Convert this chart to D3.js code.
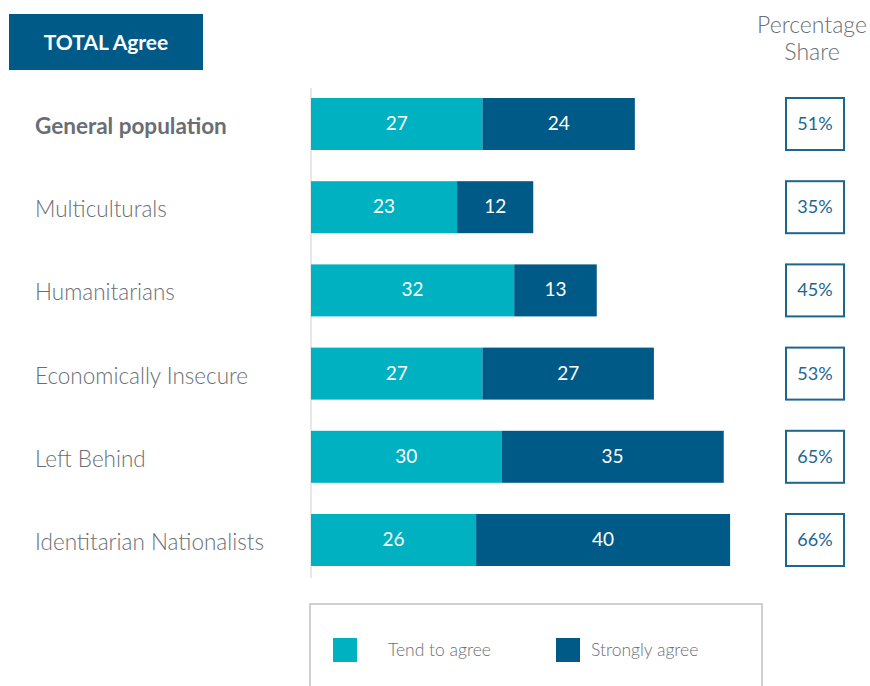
<!DOCTYPE html>
<html>
<head>
<meta charset="utf-8">
<script src="https://cdn.jsdelivr.net/npm/d3@7"></script>
<style>
  body { margin: 0; background: #fff; }
  text { font-family: Lato, "Noto Sans", sans-serif; }
</style>
</head>
<body>
<div id="chart"></div>
<script>
const groups = ["General population", "Multiculturals", "Humanitarians", "Economically Insecure", "Left Behind", "Identitarian Nationalists"];
const tendToAgree = [27, 23, 32, 27, 30, 26];
const stronglyAgree = [24, 12, 13, 27, 35, 40];
const shares = ["51%", "35%", "45%", "53%", "65%", "66%"];
const seriesNames = ["Tend to agree", "Strongly agree"];

const W = 870, H = 686;
const teal = "#00b1c1", navy = "#005a87", grey = "#6a6e74";

const svg = d3.select("#chart").append("svg")
  .attr("width", W).attr("height", H);

// scales
const x = d3.scaleLinear().domain([0, 100]).range([311, 946]);
const y = d3.scaleBand().domain(groups).range([98, 566]).paddingInner(0.375).paddingOuter(0);

// title box
svg.append("rect").attr("x", 9).attr("y", 14).attr("width", 194).attr("height", 56).attr("fill", navy);
svg.append("text").attr("x", 106).attr("y", 50).attr("text-anchor", "middle")
  .attr("fill", "#fff").attr("font-size", 21).attr("font-weight", "bold").text("TOTAL Agree");

// percentage share header
svg.append("text").attr("x", 812).attr("y", 33).attr("text-anchor", "middle")
  .attr("fill", grey).attr("font-size", 23).attr("font-weight", 300).text("Percentage");
svg.append("text").attr("x", 812).attr("y", 60).attr("text-anchor", "middle")
  .attr("fill", grey).attr("font-size", 23).attr("font-weight", 300).text("Share");

// axis line
svg.append("line").attr("x1", 311).attr("x2", 311).attr("y1", 88).attr("y2", 578)
  .attr("stroke", "#d0d0d0").attr("stroke-width", 1);

const rows = groups.map((g, i) => ({ g, a: tendToAgree[i], b: stronglyAgree[i], s: shares[i] }));
const row = svg.selectAll(".row").data(rows).join("g").attr("class", "row");

// category labels
row.append("text").attr("x", 35).attr("y", d => y(d.g) + y.bandwidth() / 2 + 10)
  .attr("fill", grey).attr("font-size", 22.5)
  .attr("font-weight", (d, i) => i === 0 ? "bold" : 300).text(d => d.g);

// tend to agree
row.append("rect").attr("x", x(0)).attr("y", d => y(d.g))
  .attr("width", d => x(d.a) - x(0)).attr("height", y.bandwidth()).attr("fill", teal);
row.append("text").attr("x", d => (x(0) + x(d.a)) / 2).attr("y", d => y(d.g) + y.bandwidth() / 2 + 6)
  .attr("text-anchor", "middle").attr("fill", "#fff").attr("font-size", 19).text(d => d.a);

// strongly agree
row.append("rect").attr("x", d => x(d.a)).attr("y", d => y(d.g))
  .attr("width", d => x(d.a + d.b) - x(d.a)).attr("height", y.bandwidth()).attr("fill", navy);
row.append("text").attr("x", d => (x(d.a) + x(d.a + d.b)) / 2).attr("y", d => y(d.g) + y.bandwidth() / 2 + 6)
  .attr("text-anchor", "middle").attr("fill", "#fff").attr("font-size", 19).text(d => d.b);

// share boxes
row.append("rect").attr("x", 786).attr("y", d => y(d.g))
  .attr("width", 58).attr("height", y.bandwidth())
  .attr("fill", "#fff").attr("stroke", "#1d6690").attr("stroke-width", 2);
row.append("text").attr("x", 815).attr("y", d => y(d.g) + y.bandwidth() / 2 + 6)
  .attr("text-anchor", "middle").attr("fill", "#1d6690").attr("font-size", 18).text(d => d.s);

// legend
svg.append("rect").attr("x", 310).attr("y", 604).attr("width", 452).attr("height", 100)
  .attr("fill", "#fff").attr("stroke", "#cfcfcf").attr("stroke-width", 2);
const legX = [333, 556], legTextX = [388, 591];
const leg = svg.selectAll(".leg").data(seriesNames).join("g").attr("class", "leg");
leg.append("rect").attr("x", (d, i) => legX[i]).attr("y", 638).attr("width", 24).attr("height", 24)
  .attr("fill", (d, i) => i === 0 ? teal : navy);
leg.append("text").attr("x", (d, i) => legTextX[i]).attr("y", 656)
  .attr("fill", grey).attr("font-size", 17.5).attr("font-weight", 300).text(d => d);
</script>
</body>
</html>
